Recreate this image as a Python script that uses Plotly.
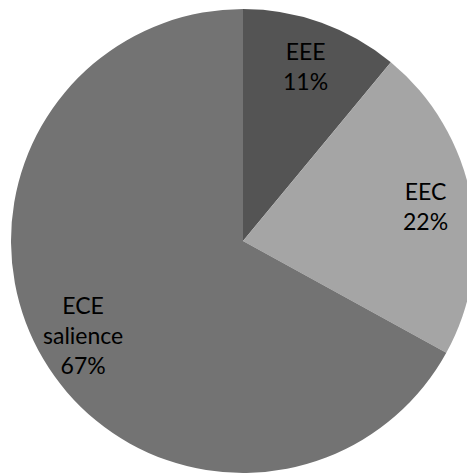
import math
import plotly.graph_objects as go

# Shares of each category (percent), drawn clockwise from 12 o'clock
categories = ["EEE", "EEC", "ECE salience"]
label_lines = ["EEE", "EEC", "ECE<br>salience"]
values = [11, 22, 67]
colors = ["#545454", "#a5a5a5", "#737373"]

W, H = 475, 475
cx, cy, R = 243, 241, 232  # pie centre and radius in pixels

fig = go.Figure(
    go.Pie(
        labels=categories,
        values=values,
        sort=False,
        direction="clockwise",
        rotation=0,
        marker=dict(colors=colors, line=dict(width=0)),
        textinfo="none",
        hoverinfo="label+percent",
        showlegend=False,
        domain=dict(
            x=[(cx - R) / W, (cx + R) / W],
            y=[(H - (cy + R)) / H, (H - (cy - R)) / H],
        ),
    )
)

# Data labels placed at each slice's mid-angle, 80% of the way out
total = sum(values)
cum = 0
annotations = []
for name, v in zip(label_lines, values):
    mid = (cum + v / 2) / total * 2 * math.pi
    cum += v
    r = 0.8 * R
    px = cx + r * math.sin(mid)
    py = cy - r * math.cos(mid)
    pct = round(v / total * 100)
    annotations.append(
        dict(
            x=px / W,
            y=1 - py / H,
            xref="paper",
            yref="paper",
            text=f"{name}<br>{pct}%",
            showarrow=False,
            xanchor="center",
            yanchor="middle",
            align="center",
            font=dict(family="Lato", size=23, color="#000000"),
        )
    )

fig.update_layout(
    width=W,
    height=H,
    margin=dict(l=0, r=0, t=0, b=0),
    paper_bgcolor="white",
    plot_bgcolor="white",
    annotations=annotations,
)

fig.write_html(
    "out.html",
    post_script="document.body.style.overflow='hidden';document.body.style.margin='0';",
)
